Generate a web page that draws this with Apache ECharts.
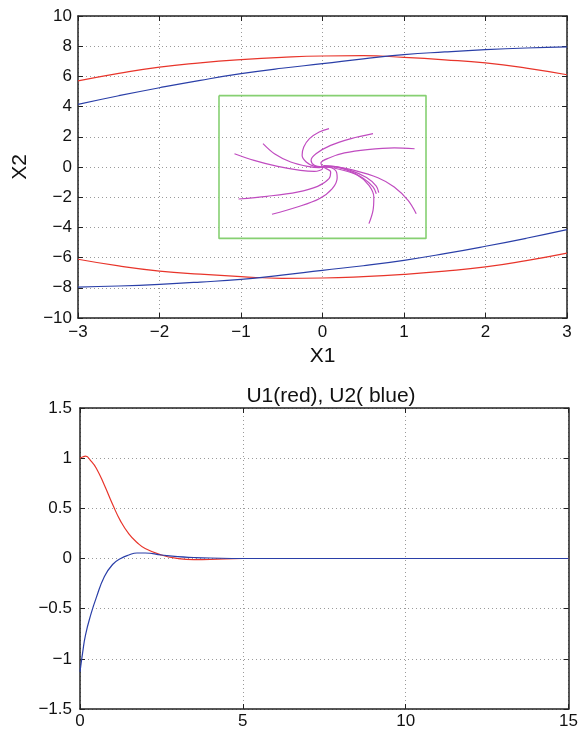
<!DOCTYPE html>
<html>
<head>
<meta charset="utf-8">
<script src="https://cdn.jsdelivr.net/npm/echarts@6/dist/echarts.min.js"></script>
<style>
  html, body { margin: 0; padding: 0; background: #fff; }
  #chart { width: 581px; height: 733px; }
</style>
</head>
<body>
<div id="chart"></div>
<script>
  // top plot: phase plane
  const x1Grid = [-3, -2.5, -2, -1.5, -1, -0.5, 0, 0.5, 1, 1.5, 2, 2.5, 3]
  const redUpper = [5.7, 6.2, 6.62, 6.9, 7.11, 7.26, 7.35, 7.37, 7.26, 7.1, 6.89, 6.55, 6.11]
  const redLower = [-6.11, -6.55, -6.89, -7.1, -7.26, -7.37, -7.35, -7.26, -7.11, -6.9, -6.62, -6.2, -5.7]
  const blueUpper = [4.15, 4.72, 5.25, 5.74, 6.18, 6.54, 6.84, 7.16, 7.44, 7.62, 7.77, 7.88, 7.95]
  const blueLower = [-7.95, -7.88, -7.77, -7.62, -7.44, -7.16, -6.84, -6.54, -6.18, -5.74, -5.25, -4.72, -4.15]

  const boxX = [-1.27, 1.27, 1.27, -1.27, -1.27]
  const boxY = [4.73, 4.73, -4.73, -4.73, 4.73]

  // magenta trajectories, outer start -> origin
  const trajectories = [
    [[0.08, 2.54], [-0.04, 2.32], [-0.16, 1.88], [-0.23, 1.32], [-0.25, 0.77], [-0.2, 0.33], [-0.1, 0.04], [0, 0]],
    [[0.62, 2.21], [0.35, 1.88], [0.1, 1.43], [-0.08, 0.88], [-0.14, 0.44], [-0.1, 0.11], [0, 0]],
    [[1.13, 1.21], [0.88, 1.26], [0.55, 1.15], [0.27, 0.93], [0.08, 0.6], [-0.02, 0.26], [0, 0]],
    [[-1.08, 0.88], [-0.84, 0.44], [-0.55, 0.04], [-0.27, -0.22], [-0.1, -0.29], [0, -0.11], [0, 0]],
    [[-0.73, 1.55], [-0.59, 0.88], [-0.39, 0.33], [-0.18, 0.04], [-0.04, -0.04], [0, 0]],
    [[-1.03, -2.12], [-0.68, -1.94], [-0.31, -1.66], [-0.06, -1.28], [0.08, -0.77], [0.1, -0.33], [0.02, -0.04], [0, 0]],
    [[-0.62, -3.13], [-0.31, -2.65], [-0.04, -2.1], [0.12, -1.43], [0.18, -0.71], [0.16, -0.22], [0.04, 0], [0, 0]],
    [[0.57, -3.75], [0.62, -2.87], [0.63, -1.99], [0.57, -1.21], [0.43, -0.55], [0.23, -0.18], [0.04, 0], [0, 0]],
    [[0.66, -1.77], [0.62, -1.32], [0.49, -0.71], [0.31, -0.22], [0.1, 0.04], [0, 0.04], [0, 0]],
    [[0.69, -1.7], [0.66, -1.26], [0.54, -0.7], [0.35, -0.24], [0.13, 0.02], [0, 0]],
    [[1.15, -3.09], [1.05, -2.21], [0.88, -1.32], [0.68, -0.71], [0.39, -0.22], [0.14, 0.04], [0.02, 0.09], [0, 0]]
  ]

  // bottom plot: controls
  const tValues = [0, 0.08, 0.17, 0.34, 0.5, 0.75, 1, 1.25, 1.5, 1.75, 2, 2.5, 3, 3.5, 4, 5, 15]
  const u1Values = [1.0, 1.012, 1.02, 0.97, 0.9, 0.73, 0.54, 0.37, 0.245, 0.16, 0.1, 0.035, 0.0, -0.012, -0.01, 0, 0]
  const u2Values = [-1.13, -0.94, -0.76, -0.55, -0.39, -0.18, -0.06, 0.0, 0.035, 0.055, 0.055, 0.035, 0.018, 0.01, 0.005, 0, 0]

  const FONT = "'Liberation Sans', Arial, sans-serif"
  const RED = '#e8352b'
  const BLUE = '#2a3fa8'
  const MAGENTA = '#c04cc0'
  const GREEN = '#86d072'
  const AXIS = '#222'

  const minus = (v) => String(v).replace('-', '\u2212')
  const pairs = (xs, ys) => xs.map((x, i) => [x, ys[i]])

  function mainAxis(gridIndex, pos, min, max, interval, labelMargin, name, nameGap) {
    return {
      type: 'value',
      gridIndex: gridIndex,
      position: pos,
      min: min,
      max: max,
      interval: interval,
      name: name || '',
      nameLocation: 'middle',
      nameGap: nameGap || 0,
      nameTextStyle: { fontFamily: FONT, fontSize: 21, color: '#111' },
      axisLine: { show: true, onZero: false, lineStyle: { color: AXIS, width: 1.5 } },
      axisTick: { show: true, inside: true, length: 5, lineStyle: { color: AXIS } },
      axisLabel: { show: true, margin: labelMargin, fontFamily: FONT, fontSize: 17, color: '#111', formatter: minus },
      splitLine: { show: true, lineStyle: { color: '#9a9a9a', type: [1, 3], width: 1 } }
    }
  }

  function sideAxis(gridIndex, pos, min, max, interval) {
    return {
      type: 'value',
      gridIndex: gridIndex,
      position: pos,
      min: min,
      max: max,
      interval: interval,
      axisLine: { show: true, onZero: false, lineStyle: { color: AXIS, width: 1.5 } },
      axisTick: { show: true, inside: true, length: 5, lineStyle: { color: AXIS } },
      axisLabel: { show: false },
      splitLine: { show: false }
    }
  }

  function line(name, data, color, xi, yi, width) {
    return {
      name: name,
      type: 'line',
      xAxisIndex: xi,
      yAxisIndex: yi,
      data: data,
      smooth: true,
      showSymbol: false,
      symbol: 'none',
      silent: true,
      animation: false,
      lineStyle: { color: color, width: width || 1.2 }
    }
  }

  const series = [
    line('redUpper', pairs(x1Grid, redUpper), RED, 0, 0),
    line('redLower', pairs(x1Grid, redLower), RED, 0, 0),
    line('blueUpper', pairs(x1Grid, blueUpper), BLUE, 0, 0),
    line('blueLower', pairs(x1Grid, blueLower), BLUE, 0, 0),
    Object.assign(line('box', pairs(boxX, boxY), GREEN, 0, 0, 1.6), { smooth: false })
  ]
  trajectories.forEach((tr, i) => {
    series.push(Object.assign(line('traj' + i, tr, MAGENTA, 0, 0, 1.2), { smooth: 0.35 }))
  })
  series.push(line('U1', pairs(tValues, u1Values), RED, 2, 2))
  series.push(line('U2', pairs(tValues, u2Values), BLUE, 2, 2))

  const option = {
    backgroundColor: '#fff',
    animation: false,
    title: {
      text: 'U1(red), U2( blue)',
      left: 326,
      top: 381,
      textAlign: 'center',
      textStyle: { fontFamily: FONT, fontSize: 21, fontWeight: 'normal', color: '#111' }
    },
    grid: [
      { left: 78, right: 14, top: 16, height: 302 },
      { left: 80, right: 10, top: 408, height: 301 }
    ],
    xAxis: [
      mainAxis(0, 'bottom', -3, 3, 1, 6, 'X1', 28),
      sideAxis(0, 'top', -3, 3, 1),
      mainAxis(1, 'bottom', 0, 15, 5, 4),
      sideAxis(1, 'top', 0, 15, 5)
    ],
    yAxis: [
      mainAxis(0, 'left', -10, 10, 2, 6, 'X2', 47),
      sideAxis(0, 'right', -10, 10, 2),
      mainAxis(1, 'left', -1.5, 1.5, 0.5, 8),
      sideAxis(1, 'right', -1.5, 1.5, 0.5)
    ],
    series: series
  }

  const chart = echarts.init(document.getElementById('chart'))
  chart.setOption(option)
</script>
</body>
</html>
